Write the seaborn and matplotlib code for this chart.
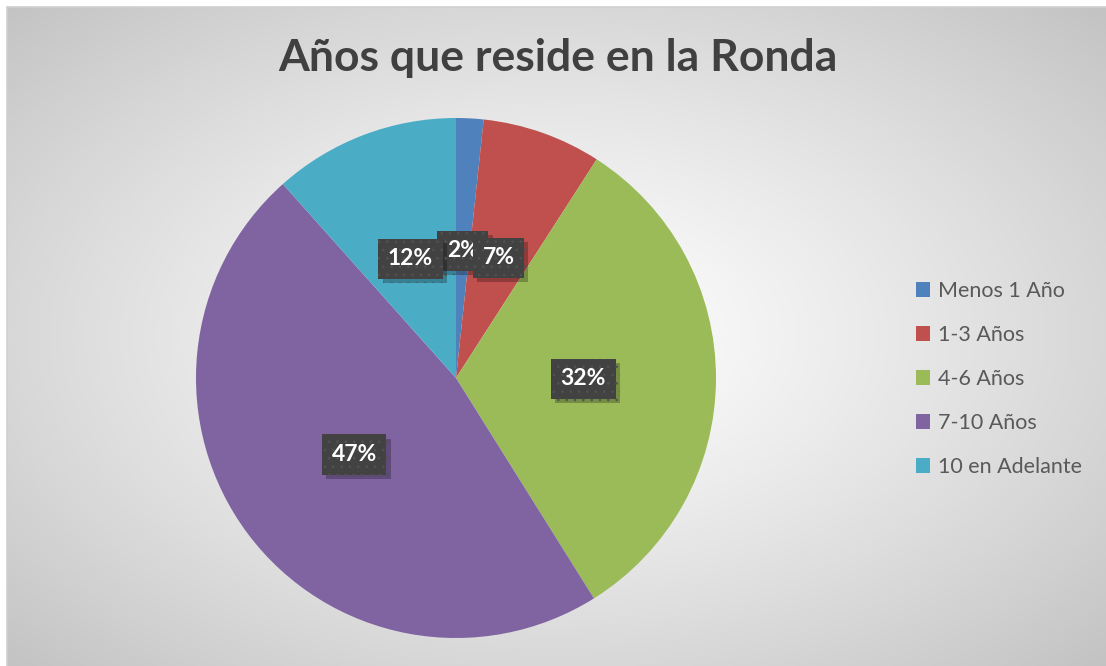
import numpy as np
import matplotlib
matplotlib.use("Agg")
import matplotlib.pyplot as plt
import matplotlib.patheffects as pe
from matplotlib.patches import Patch
import seaborn as sns

# ---- data ----
categories = ["Menos 1 Año", "1-3 Años", "4-6 Años", "7-10 Años", "10 en Adelante"]
values = [1.7, 7.4, 32.0, 47.3, 11.6]
colors = ["#4f81bd", "#c0504d", "#9bbb59", "#8064a2", "#4bacc6"]
title = "Años que reside en la Ronda"

sns.set_theme(style="white")
plt.rcParams["font.family"] = ["Lato", "DejaVu Sans"]
plt.rcParams["hatch.linewidth"] = 0.6
palette = sns.color_palette(colors)

W, H = 1106, 666
fig = plt.figure(figsize=(W / 100, H / 100), dpi=100)
fig.patch.set_facecolor("white")

# background radial gradient (chart area)
x0, y0 = 7, 7
bg = fig.add_axes([x0 / W, 0, 1 - x0 / W, 1 - y0 / H])
bw, bh = W - x0, H - y0
yy, xx = np.mgrid[0:bh, 0:bw]
cx, cy = 553 - x0, 335 - y0
d = np.sqrt(((xx - cx) / 560.0) ** 2 + ((yy - cy) / 340.0) ** 2) / np.sqrt(2)
val = 255 - 62 * np.clip(d, 0, 1) ** 1.2
img = np.dstack([val, val, val]) / 255.0
bg.imshow(img, aspect="auto", extent=[0, 1, 0, 1], origin="upper")
bg.set_xlim(0, 1)
bg.set_ylim(0, 1)
bg.axis("off")
# light border lines
fig.add_artist(plt.Line2D([x0 / W, 1], [1 - y0 / H, 1 - y0 / H], color="#d0d0d0", lw=1.2))
fig.add_artist(plt.Line2D([x0 / W, x0 / W], [0, 1 - y0 / H], color="#d0d0d0", lw=1.2))

# pie
cxp, cyp, r = 456, 378, 260
ax = fig.add_axes([(cxp - r) / W, 1 - (cyp + r) / H, 2 * r / W, 2 * r / H])
ax.set_facecolor("none")
wedges, texts, autotexts = ax.pie(
    values, colors=palette, startangle=90, counterclock=False,
    autopct=lambda p: f"{p:.0f}%", pctdistance=0.49,
    wedgeprops=dict(linewidth=0),
    textprops=dict(color="white", fontsize=16.5, fontweight="bold"),
)
ax.set_xlim(-1, 1)
ax.set_ylim(-1, 1)
ax.set_aspect("equal")
for t in autotexts:
    t.set_bbox(dict(boxstyle="square,pad=0.42", facecolor="#424242", edgecolor="#525252",
                    linewidth=0, hatch=".."))
    t.get_bbox_patch().set_path_effects([
        pe.SimplePatchShadow(offset=(3, -3), shadow_rgbFace="#000000", alpha=0.25),
        pe.Normal()])

# title
fig.text(558 / W, 1 - 58 / H, title, ha="center", va="center",
         fontsize=32, fontweight="bold", color="#404040")

# legend
handles = [Patch(facecolor=c, edgecolor="none") for c in colors]
leg = fig.legend(handles, categories, loc="center left",
                 bbox_to_anchor=(907 / W, 1 - 379 / H), frameon=False,
                 fontsize=15.5, labelspacing=1.12, handlelength=0.68, handleheight=0.68,
                 handletextpad=0.35, borderaxespad=0)
for t in leg.get_texts():
    t.set_color("#595959")

fig.savefig("out.png", dpi=100)
